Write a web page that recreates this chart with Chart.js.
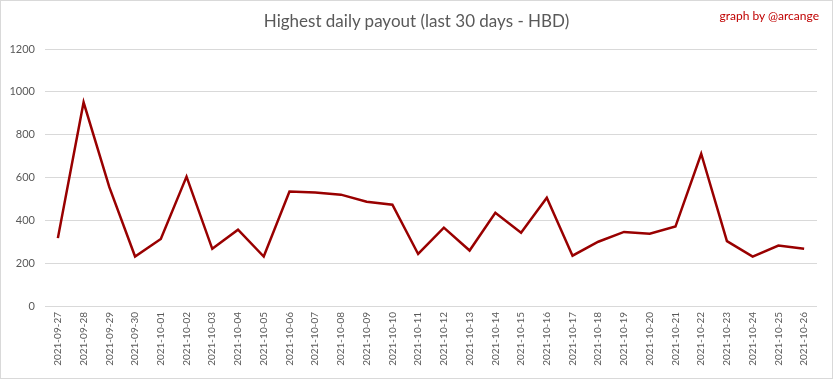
<!DOCTYPE html>
<html>
<head>
<meta charset="utf-8">
<script src="https://cdn.jsdelivr.net/npm/chart.js@4.4.0/dist/chart.umd.min.js"></script>
<style>
    body { margin: 0; background: #fff; }
    #wrap { position: relative; width: 833px; height: 379px; box-sizing: border-box; border: 1px solid #d9d9d9; }
    #title { position: absolute; left: 0; right: 0; top: 9px; text-align: center; font: 17px Lato, sans-serif; color: #595959; }
    #credit { position: absolute; right: 13px; top: 7px; font: 12px Lato, sans-serif; color: #c00000; }
    canvas { position: absolute; left: 0; top: 0; }
</style>
</head>
<body>
<div id="wrap">
    <canvas id="payoutChart" width="831" height="377"></canvas>
    <div id="title">Highest daily payout (last 30 days - HBD)</div>
    <div id="credit">graph by @arcange</div>
</div>
<script>
const days = [
    '2021-09-27', '2021-09-28', '2021-09-29', '2021-09-30', '2021-10-01', '2021-10-02',
    '2021-10-03', '2021-10-04', '2021-10-05', '2021-10-06', '2021-10-07', '2021-10-08',
    '2021-10-09', '2021-10-10', '2021-10-11', '2021-10-12', '2021-10-13', '2021-10-14',
    '2021-10-15', '2021-10-16', '2021-10-17', '2021-10-18', '2021-10-19', '2021-10-20',
    '2021-10-21', '2021-10-22', '2021-10-23', '2021-10-24', '2021-10-25', '2021-10-26'
];
const payouts = [
    317, 951, 555, 231, 313, 604, 267, 356, 231, 535, 530, 520, 487, 473, 243,
    366, 259, 435, 342, 505, 235, 300, 346, 337, 371, 711, 303, 231, 282, 267
];
const yTicks = [0, 200, 400, 600, 800, 1000, 1200];

document.addEventListener('DOMContentLoaded', () => {
    renderPayoutChart();
});

function renderPayoutChart() {
    const ctx = document.getElementById('payoutChart').getContext('2d');
    const chart = new Chart(ctx, {
        type: 'line',
        data: {
            labels: days,
            datasets: [{
                label: 'Highest daily payout',
                data: payouts,
                borderColor: '#990000',
                borderWidth: 2.5,
                pointRadius: 0,
                tension: 0,
                fill: false,
            }]
        },
        options: {
            responsive: false,
            animation: false,
            layout: {
                padding: { top: 48, right: 15, left: 0, bottom: 0 }
            },
            plugins: {
                legend: { display: false },
                tooltip: { enabled: false }
            },
            scales: {
                x: {
                    offset: true,
                    grid: { display: false, drawTicks: false },
                    border: { display: false },
                    ticks: {
                        maxRotation: 90,
                        minRotation: 90,
                        autoSkip: false,
                        color: '#595959',
                        font: { family: 'Lato', size: 10 },
                        padding: 6
                    },
                    afterFit: (axis) => { axis.height = 72; }
                },
                y: {
                    min: 0,
                    max: 1200,
                    afterBuildTicks: (axis) => { axis.ticks = yTicks.map(v => ({ value: v })); },
                    grid: { color: '#d9d9d9', drawTicks: false },
                    border: { display: false },
                    ticks: {
                        color: '#595959',
                        font: { family: 'Lato', size: 11 },
                        padding: 10,
                        callback: (value) => String(value)
                    },
                    afterFit: (axis) => { axis.width = 44; }
                }
            }
        }
    });
}
</script>
</body>
</html>
